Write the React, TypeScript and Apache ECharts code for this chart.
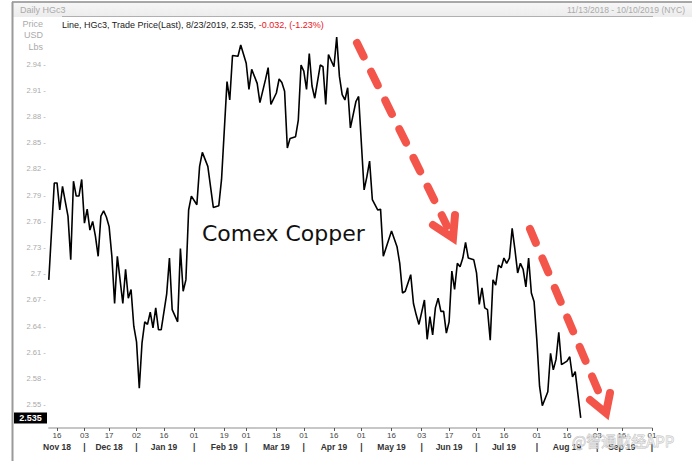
import React, { useEffect, useRef } from 'react';
import * as echarts from 'echarts';

// ---- data ----
const holidays = ['2018-11-22', '2018-12-05', '2018-12-25', '2019-01-01', '2019-01-21', '2019-02-18', '2019-04-19', '2019-05-27', '2019-07-04', '2019-09-02'];
const rangeStart = '2018-11-13';
const rangeEnd = '2019-10-01';

// [trading-day index from 11/13/2018, price USD/lb]
const copperPrice: [number, number][] = [
  [0, 2.693], [2, 2.804], [3, 2.804], [4, 2.773], [5, 2.8], [6, 2.783], [7, 2.766], [8, 2.716], [9, 2.806], [10, 2.789],
  [11, 2.789], [12, 2.808], [13, 2.758], [14, 2.774], [15, 2.75], [16, 2.76], [17, 2.743], [18, 2.72], [19, 2.766], [20, 2.772],
  [21, 2.765], [22, 2.754], [23, 2.72], [24, 2.666], [25, 2.72], [26, 2.693], [27, 2.666], [28, 2.705], [29, 2.672], [30, 2.682],
  [31, 2.64], [32, 2.622], [33, 2.569], [34, 2.621], [35, 2.645], [36, 2.642], [37, 2.656], [38, 2.638], [39, 2.661], [40, 2.636],
  [41, 2.636], [43, 2.677], [44, 2.718], [45, 2.659], [47, 2.645], [48, 2.729], [49, 2.68], [50, 2.693], [51, 2.773], [52, 2.789],
  [54, 2.779], [55, 2.823], [56, 2.839], [58, 2.823], [60, 2.776], [62, 2.778], [63, 2.808], [65, 2.92], [66, 2.899], [67, 2.95],
  [69, 2.949], [70, 2.962], [72, 2.941], [73, 2.911], [74, 2.934], [76, 2.918], [77, 2.896], [79, 2.922], [80, 2.936], [81, 2.894],
  [83, 2.907], [84, 2.923], [85, 2.919], [86, 2.909], [87, 2.844], [88, 2.855], [90, 2.857], [91, 2.876], [92, 2.939], [93, 2.932],
  [94, 2.911], [95, 2.952], [96, 2.915], [97, 2.901], [99, 2.939], [100, 2.937], [101, 2.894], [102, 2.951], [104, 2.937], [105, 2.971],
  [106, 2.926], [107, 2.905], [108, 2.899], [109, 2.913], [110, 2.867], [112, 2.897], [113, 2.903], [115, 2.796], [116, 2.811], [117, 2.829],
  [118, 2.785], [120, 2.773], [121, 2.774], [122, 2.72], [125, 2.749], [127, 2.731], [128, 2.712], [129, 2.678], [130, 2.68], [132, 2.699],
  [133, 2.666], [134, 2.653], [135, 2.642], [137, 2.67], [138, 2.625], [139, 2.651], [140, 2.63], [141, 2.661], [142, 2.672], [143, 2.657],
  [144, 2.657], [145, 2.632], [146, 2.645], [147, 2.703], [148, 2.682], [149, 2.712], [150, 2.708], [151, 2.718], [152, 2.736], [153, 2.718],
  [155, 2.716], [156, 2.701], [157, 2.665], [158, 2.684], [159, 2.661], [160, 2.659], [161, 2.624], [162, 2.693], [163, 2.687], [164, 2.71],
  [165, 2.707], [166, 2.718], [167, 2.712], [168, 2.718], [169, 2.752], [170, 2.728], [171, 2.701], [172, 2.712], [173, 2.705], [174, 2.685],
  [175, 2.718], [176, 2.678], [177, 2.668], [178, 2.624], [179, 2.571], [180, 2.549], [182, 2.565], [183, 2.609], [184, 2.59], [185, 2.602],
  [186, 2.633], [187, 2.596], [189, 2.6], [190, 2.605], [191, 2.582], [192, 2.588], [194, 2.535],
];

const dayTicks = ['2018-11-16', '2018-12-03', '2018-12-17', '2019-01-02', '2019-01-16', '2019-02-01', '2019-02-19', '2019-03-01', '2019-03-18', '2019-04-01', '2019-04-16', '2019-05-01', '2019-05-16', '2019-06-03', '2019-06-17', '2019-07-01', '2019-07-16', '2019-08-01', '2019-08-16', '2019-09-03', '2019-09-16', '2019-10-01'];
const monthLabelDates = ['2018-11-16', '2018-12-17', '2019-01-16', '2019-02-19', '2019-03-18', '2019-04-16', '2019-05-16', '2019-06-17', '2019-07-16', '2019-08-16', '2019-09-16'];
const monthLabels = ['Nov 18', 'Dec 18', 'Jan 19', 'Feb 19', 'Mar 19', 'Apr 19', 'May 19', 'Jun 19', 'Jul 19', 'Aug 19', 'Sep 19'];
const monthSeparators = ['2018-12-03', '2019-01-02', '2019-02-01', '2019-03-01', '2019-04-01', '2019-05-01', '2019-06-03', '2019-07-01', '2019-08-01', '2019-09-03', '2019-10-01'];

const yMin = 2.52;
const yMax = 2.994;
const yInterval = 0.03;
const yLabelLow = 2.55;
const yLabelHigh = 2.94;

function buildTradingDays(): string[] {
  const out: string[] = [];
  const d = new Date(rangeStart + 'T00:00:00Z');
  const end = new Date(rangeEnd + 'T00:00:00Z').getTime();
  while (d.getTime() <= end) {
    const wd = d.getUTCDay();
    const s = d.toISOString().slice(0, 10);
    if (wd !== 0 && wd !== 6 && !holidays.includes(s)) out.push(s);
    d.setUTCDate(d.getUTCDate() + 1);
  }
  return out;
}

const FONT = 'Liberation Sans';
const RED = '#f4554b';

export default function App() {
  const ref = useRef<HTMLDivElement>(null);
  useEffect(() => {
    if (!ref.current) return;
    const chart = echarts.init(ref.current, null, { renderer: 'svg' });
    const days = buildTradingDays();
    const daySet = new Set(dayTicks);
    const monthMap = new Map(monthLabelDates.map((d, i) => [d, monthLabels[i]]));
    const sepSet = new Set(monthSeparators);
    const last = copperPrice[copperPrice.length - 1][1];

    const dashArrow = (id: string, x1: number, y1: number, x2: number, y2: number, head: number[][]) => [
      {
        id: id + '-shaft', type: 'line', z: 50,
        shape: { x1, y1, x2, y2 },
        style: { stroke: RED, lineWidth: 8, lineCap: 'round', lineDash: [15, 17] },
      },
      {
        id: id + '-head', type: 'polyline', z: 50,
        shape: { points: head },
        style: { stroke: RED, lineWidth: 8, lineCap: 'round', lineJoin: 'miter', fill: 'none' },
      },
    ];

    chart.setOption({
      animation: false,
      backgroundColor: '#ffffff',
      grid: { left: 48.8, right: 40, top: 17, bottom: 30, containLabel: false },
      xAxis: [
        {
          type: 'category',
          data: days,
          boundaryGap: false,
          offset: -3,
          axisLine: { show: true, lineStyle: { color: '#b4b4b4', width: 1.5 } },
          axisTick: {
            show: true, length: 3, alignWithLabel: true,
            interval: (i: number, v: string) => daySet.has(v),
            lineStyle: { color: '#555' },
          },
          axisLabel: {
            interval: (i: number, v: string) => daySet.has(v),
            formatter: (v: string) => v.slice(8),
            margin: 3, fontFamily: FONT, fontSize: 8, color: '#444',
          },
          splitLine: { show: false },
        },
        {
          type: 'category',
          data: days,
          boundaryGap: false,
          position: 'bottom',
          offset: 8,
          axisLine: { show: false },
          axisTick: { show: false },
          axisLabel: {
            interval: (i: number, v: string) => monthMap.has(v) || sepSet.has(v),
            formatter: (v: string) => (monthMap.has(v) ? (monthMap.get(v) as string) : '|'),
            margin: 3, fontFamily: FONT, fontSize: 8.5, fontWeight: 'bold', color: '#333',
          },
          splitLine: { show: false },
        },
      ],
      yAxis: {
        type: 'value',
        min: yMin,
        max: yMax,
        interval: yInterval,
        axisLine: { show: false },
        axisTick: { show: false },
        splitLine: { show: false },
        axisLabel: {
          margin: 3,
          fontFamily: FONT, fontSize: 7.5, color: '#aaaaaa',
          formatter: (v: number) => (v >= yLabelLow - 1e-6 && v <= yLabelHigh + 1e-6 ? `${Number(v.toFixed(2))} -` : ''),
        },
      },
      series: [
        {
          type: 'line',
          xAxisIndex: 0,
          data: copperPrice,
          showSymbol: false,
          lineStyle: { color: '#000', width: 1.6 },
          z: 10,
        },
      ],
      graphic: [
        {
          id: 'hdr', type: 'rect', z: 1, silent: true,
          shape: { x: 12, y: 2, width: 680, height: 15 },
          style: {
            fill: new echarts.graphic.LinearGradient(0, 0, 0, 1, [
              { offset: 0, color: '#f7f7f7' },
              { offset: 1, color: '#ececec' },
            ]),
          },
        },
        { id: 'topline', type: 'line', z: 2, shape: { x1: 12, y1: 2, x2: 692, y2: 2 }, style: { stroke: '#8c8c8c', lineWidth: 1.5 } },
        { id: 'leftline', type: 'line', z: 2, shape: { x1: 12.5, y1: 2, x2: 12.5, y2: 461 }, style: { stroke: '#9a9a9a', lineWidth: 2 } },
        { id: 'subline', type: 'line', z: 2, shape: { x1: 62, y1: 16.5, x2: 653, y2: 16.5 }, style: { stroke: '#b0b0b0', lineWidth: 1 } },
        { id: 'daily', type: 'text', z: 3, x: 20, y: 10, style: { text: 'Daily HGc3', font: `9px "${FONT}"`, fill: '#aaaaaa', verticalAlign: 'middle' } },
        { id: 'range', type: 'text', z: 3, x: 685, y: 10, style: { text: '11/13/2018 - 10/10/2019 (NYC)', font: `8.5px "${FONT}"`, fill: '#aaaaaa', align: 'right', verticalAlign: 'middle' } },
        { id: 'u1', type: 'text', z: 3, x: 43, y: 24, style: { text: 'Price', font: `9px "${FONT}"`, fill: '#aaaaaa', align: 'right', verticalAlign: 'middle' } },
        { id: 'u2', type: 'text', z: 3, x: 43, y: 35, style: { text: 'USD', font: `9px "${FONT}"`, fill: '#aaaaaa', align: 'right', verticalAlign: 'middle' } },
        { id: 'u3', type: 'text', z: 3, x: 43, y: 47, style: { text: 'Lbs', font: `9px "${FONT}"`, fill: '#aaaaaa', align: 'right', verticalAlign: 'middle' } },
        {
          id: 'legend', type: 'text', z: 3, x: 62, y: 25,
          style: {
            text: '{a|Line, HGc3, Trade Price(Last), 8/23/2019, 2.535, }{b|-0.032, (-1.23%)}',
            verticalAlign: 'middle',
            rich: {
              a: { fontFamily: FONT, fontSize: 9, fill: '#222' },
              b: { fontFamily: FONT, fontSize: 9, fill: '#e8141c' },
            },
          },
        },
        { id: 'title', type: 'text', z: 20, x: 202, y: 233, style: { text: 'Comex Copper', font: '22px "DejaVu Sans"', fill: '#111', verticalAlign: 'middle' } },
        ...dashArrow('a1', 357, 43, 447, 226, [[433, 225], [453, 238], [455, 215]]),
        ...dashArrow('a2', 530, 229, 602, 400, [[590, 400], [606, 413], [610, 393]]),
        {
          id: 'wm', type: 'text', z: 30, x: 572, y: 440,
          style: { text: '@智通财经APP', font: '15px "Noto Sans CJK SC"', fill: 'rgba(255,255,255,0.5)', stroke: 'rgba(175,175,175,0.8)', lineWidth: 0.8, verticalAlign: 'middle' },
        },
      ],
    });

    const yPix = chart.convertToPixel({ yAxisIndex: 0 }, last) as number;
    chart.setOption({
      graphic: [
        { id: 'lastBox', type: 'rect', z: 40, shape: { x: 14, y: yPix - 5.5, width: 33, height: 11 }, style: { fill: '#000' } },
        { id: 'lastTxt', type: 'text', z: 41, x: 30.5, y: yPix, style: { text: String(last), font: `bold 9px "${FONT}"`, fill: '#fff', align: 'center', verticalAlign: 'middle' } },
      ],
    });

    return () => chart.dispose();
  }, []);
  return <div ref={ref} style={{ position: 'fixed', left: 0, top: 0, width: 692, height: 461 }} />;
}
